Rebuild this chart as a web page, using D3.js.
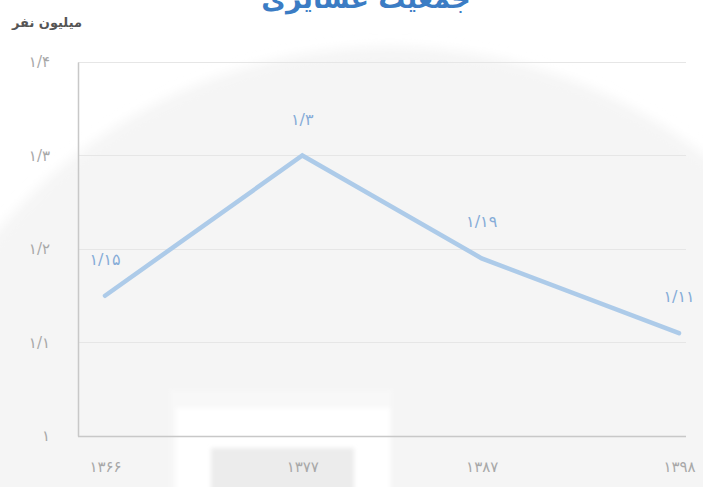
<!DOCTYPE html>
<html><head><meta charset="utf-8">
<script src="https://cdn.jsdelivr.net/npm/d3@7"></script>
<style>html,body{margin:0;padding:0;background:#fff;}svg{display:block;font-family:"DejaVu Sans",sans-serif;}</style>
</head><body>
<script>
const years = [1366, 1377, 1387, 1398];
const yearLabels = ["۱۳۶۶", "۱۳۷۷", "۱۳۸۷", "۱۳۹۸"];
const values = [1.15, 1.3, 1.19, 1.11];
const valueLabels = ["۱/۱۵", "۱/۳", "۱/۱۹", "۱/۱۱"];
const yTicks = [1.0, 1.1, 1.2, 1.3, 1.4];
const yTickLabels = ["۱", "۱/۱", "۱/۲", "۱/۳", "۱/۴"];
const title = "جمعیت عشایری";
const unitLabel = "میلیون نفر";

const W = 703, H = 487;
const svg = d3.select("body").append("svg").attr("width", W).attr("height", H);
const defs = svg.append("defs");
defs.append("filter").attr("id", "blur").attr("x", "-10%").attr("y", "-10%").attr("width", "120%").attr("height", "120%")
  .append("feGaussianBlur").attr("stdDeviation", 6);
defs.append("filter").attr("id", "blur2")
  .append("feGaussianBlur").attr("stdDeviation", 2);

// background watermark
svg.append("rect").attr("width", W).attr("height", H).attr("fill", "#ffffff");
svg.append("circle").attr("cx", 390).attr("cy", 557).attr("r", 510).attr("fill", "#f5f5f5").attr("filter", "url(#blur)");
svg.append("rect").attr("x", 170).attr("y", 390).attr("width", 222).attr("height", 110).attr("fill", "#f8f8f8").attr("filter", "url(#blur2)");
svg.append("rect").attr("x", 176).attr("y", 408).attr("width", 214).attr("height", 90).attr("fill", "#ffffff").attr("filter", "url(#blur2)");
svg.append("rect").attr("x", 211).attr("y", 448).attr("width", 143).attr("height", 45).attr("fill", "#ececec").attr("filter", "url(#blur2)");

const mLeft = 78, mRight = 686, mTop = 62, mBottom = 436;
const x = d3.scaleLinear().domain([1366, 1398]).range([105, 679]);
const y = d3.scaleLinear().domain([1.0, 1.4]).range([mBottom, mTop]);

// gridlines
svg.append("g").selectAll("line").data(yTicks.slice(1)).join("line")
  .attr("x1", mLeft).attr("x2", mRight)
  .attr("y1", d => Math.round(y(d)) + 0.5).attr("y2", d => Math.round(y(d)) + 0.5)
  .attr("stroke", "#e6e6e6").attr("stroke-width", 1);

// axes
const yAxis = d3.axisLeft(y).tickValues(yTicks).tickSize(0).tickPadding(28)
  .tickFormat((d, i) => yTickLabels[i]);
const gy = svg.append("g").attr("transform", `translate(${mLeft},0)`).call(yAxis);
gy.select(".domain").attr("stroke", "#c8c8c8").attr("stroke-width", 1.5);
gy.selectAll("text").attr("fill", "#a8a8a8").attr("font-size", 15).attr("font-family", "DejaVu Sans");

const xAxis = d3.axisBottom(x).tickValues(years).tickSize(0).tickPadding(25)
  .tickFormat((d, i) => yearLabels[i]);
const gx = svg.append("g").attr("transform", `translate(0,${mBottom})`).call(xAxis);
gx.select(".domain").attr("d", `M${mLeft},0.5H${mRight}`).attr("stroke", "#c8c8c8").attr("stroke-width", 1.5);
gx.selectAll("text").attr("fill", "#a8a8a8").attr("font-size", 15).attr("font-family", "DejaVu Sans");

// line
const line = d3.line().x((d, i) => x(years[i])).y(d => y(d));
svg.append("path").datum(values).attr("d", line)
  .attr("fill", "none").attr("stroke", "#adcbe9").attr("stroke-width", 4.5)
  .attr("stroke-linecap", "round").attr("stroke-linejoin", "miter");

// data labels
svg.append("g").selectAll("text").data(values).join("text")
  .attr("x", (d, i) => x(years[i]))
  .attr("y", d => y(d) - 31)
  .attr("text-anchor", "middle")
  .attr("font-size", 16).attr("fill", "#86acd8")
  .text((d, i) => valueLabels[i]);

// title
svg.append("text").attr("x", 366).attr("y", 8).attr("text-anchor", "middle")
  .attr("font-size", 27).attr("font-weight", "bold").attr("fill", "#3b7cc4")
  .attr("direction", "rtl").text(title);

// unit label
svg.append("text").attr("x", 47).attr("y", 27).attr("text-anchor", "middle")
  .attr("font-size", 13).attr("font-weight", "bold").attr("fill", "#555")
  .attr("direction", "rtl").text(unitLabel);
</script>
</body></html>
